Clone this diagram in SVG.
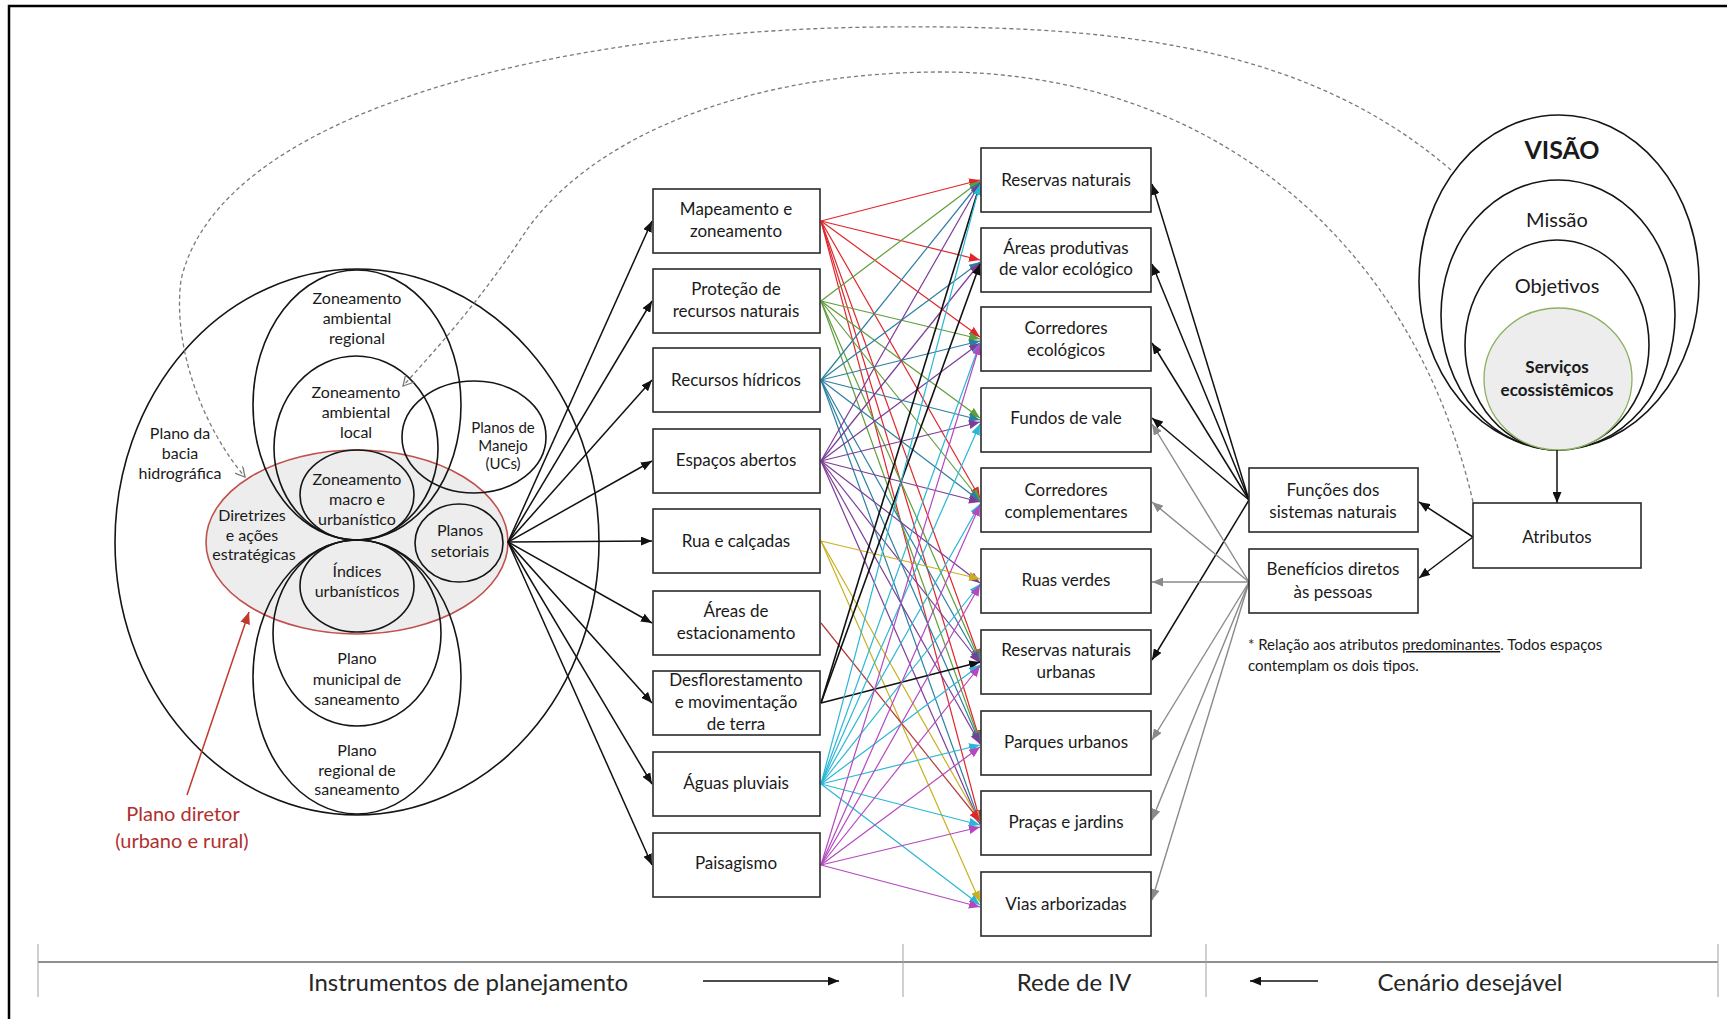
<svg xmlns="http://www.w3.org/2000/svg" width="1727" height="1019" viewBox="0 0 1727 1019">
  <style>
    text { font-family: "Lato", "Open Sans", sans-serif; fill: #1a1a1a; text-anchor: middle; }
    .t17 { font-size: 17px; }
    .t16 { font-size: 16px; }
    .t15 { font-size: 15px; }
    .box { fill: #ffffff; stroke: #2a2a2a; stroke-width: 1.6; }
    .ring { fill: none; stroke: #151515; stroke-width: 1.6; }
    .dash { fill: none; stroke: #7a7a7a; stroke-width: 1.3; stroke-dasharray: 4 3; marker-end: url(#a-open); }
    .k { stroke: #111111; stroke-width: 1.5; marker-end: url(#a-black); }
    .g { stroke: #8a8a8a; stroke-width: 1.4; marker-end: url(#a-grey); }
    .c-red { stroke: #e0262b; stroke-width: 1.2; marker-end: url(#a-red); }
    .c-green { stroke: #5e9e3a; stroke-width: 1.2; marker-end: url(#a-green); }
    .c-teal { stroke: #2b7fa3; stroke-width: 1.2; marker-end: url(#a-teal); }
    .c-purple { stroke: #7d3c98; stroke-width: 1.2; marker-end: url(#a-purple); }
    .c-yellow { stroke: #c8b020; stroke-width: 1.2; marker-end: url(#a-yellow); }
    .c-dred { stroke: #b5393a; stroke-width: 1.2; marker-end: url(#a-dred); }
    .c-black { stroke: #111111; stroke-width: 1.6; marker-end: url(#a-black); }
    .c-cyan { stroke: #2ab7d6; stroke-width: 1.2; marker-end: url(#a-cyan); }
    .c-mag { stroke: #b448c0; stroke-width: 1.2; marker-end: url(#a-mag); }
    .axis { font-size: 24px; fill: #262626; }
  </style>
  <defs>
    <marker id="a-black" markerUnits="userSpaceOnUse" markerWidth="11" markerHeight="9" refX="11" refY="4.5" orient="auto"><path d="M0,0 L11,4.5 L0,9 Z" fill="#111111"/></marker>
    <marker id="a-grey" markerUnits="userSpaceOnUse" markerWidth="11" markerHeight="9" refX="11" refY="4.5" orient="auto"><path d="M0,0 L11,4.5 L0,9 Z" fill="#8a8a8a"/></marker>
    <marker id="a-red" markerUnits="userSpaceOnUse" markerWidth="11" markerHeight="9" refX="11" refY="4.5" orient="auto"><path d="M0,0 L11,4.5 L0,9 Z" fill="#e0262b"/></marker>
    <marker id="a-green" markerUnits="userSpaceOnUse" markerWidth="11" markerHeight="9" refX="11" refY="4.5" orient="auto"><path d="M0,0 L11,4.5 L0,9 Z" fill="#5e9e3a"/></marker>
    <marker id="a-teal" markerUnits="userSpaceOnUse" markerWidth="11" markerHeight="9" refX="11" refY="4.5" orient="auto"><path d="M0,0 L11,4.5 L0,9 Z" fill="#2b7fa3"/></marker>
    <marker id="a-purple" markerUnits="userSpaceOnUse" markerWidth="11" markerHeight="9" refX="11" refY="4.5" orient="auto"><path d="M0,0 L11,4.5 L0,9 Z" fill="#7d3c98"/></marker>
    <marker id="a-yellow" markerUnits="userSpaceOnUse" markerWidth="11" markerHeight="9" refX="11" refY="4.5" orient="auto"><path d="M0,0 L11,4.5 L0,9 Z" fill="#c8b020"/></marker>
    <marker id="a-dred" markerUnits="userSpaceOnUse" markerWidth="11" markerHeight="9" refX="11" refY="4.5" orient="auto"><path d="M0,0 L11,4.5 L0,9 Z" fill="#e0262b"/></marker>
    <marker id="a-cyan" markerUnits="userSpaceOnUse" markerWidth="11" markerHeight="9" refX="11" refY="4.5" orient="auto"><path d="M0,0 L11,4.5 L0,9 Z" fill="#2ab7d6"/></marker>
    <marker id="a-mag" markerUnits="userSpaceOnUse" markerWidth="11" markerHeight="9" refX="11" refY="4.5" orient="auto"><path d="M0,0 L11,4.5 L0,9 Z" fill="#b448c0"/></marker>
    <marker id="a-plan" markerUnits="userSpaceOnUse" markerWidth="12" markerHeight="10" refX="12" refY="5" orient="auto"><path d="M0,0 L12,5 L0,10 Z" fill="#c0392b"/></marker>
    <marker id="a-open" markerUnits="userSpaceOnUse" markerWidth="11" markerHeight="11" refX="10" refY="5.5" orient="auto"><path d="M0,0 L10,5.5 L0,11" fill="none" stroke="#7a7a7a" stroke-width="1.3"/></marker>
  </defs>

  <!-- frame -->
  <path d="M9,1019 V6 H1727" fill="none" stroke="#000" stroke-width="2.5"/>

  <!-- planning instruments: nested plans -->
  <g id="plans">
    <ellipse cx="357" cy="542" rx="242" ry="273" class="ring"/>
    <ellipse cx="357" cy="542" rx="151" ry="92" fill="#ededed" stroke="#c0504d" stroke-width="1.6"/>
    <ellipse cx="357" cy="405" rx="104" ry="135" class="ring"/>
    <ellipse cx="356" cy="448" rx="82" ry="92" class="ring"/>
    <ellipse cx="357" cy="495" rx="57" ry="45" class="ring"/>
    <ellipse cx="474" cy="437" rx="72" ry="56" class="ring"/>
    <ellipse cx="459" cy="543" rx="44" ry="39" class="ring"/>
    <ellipse cx="357" cy="586" rx="57" ry="46" class="ring"/>
    <ellipse cx="357" cy="633" rx="84" ry="93" class="ring"/>
    <ellipse cx="357" cy="677" rx="104" ry="137" class="ring"/>
    <text class="t16" x="357" y="304">Zoneamento</text>
    <text class="t16" x="357" y="324">ambiental</text>
    <text class="t16" x="357" y="344">regional</text>
    <text class="t16" x="356" y="398">Zoneamento</text>
    <text class="t16" x="356" y="418">ambiental</text>
    <text class="t16" x="356" y="438">local</text>
    <text class="t16" x="180" y="439">Plano da</text>
    <text class="t16" x="180" y="459">bacia</text>
    <text class="t16" x="180" y="479">hidrográfica</text>
    <text class="t15" x="503" y="433">Planos de</text>
    <text class="t15" x="503" y="451">Manejo</text>
    <text class="t15" x="503" y="469">(UCs)</text>
    <text class="t16" x="357" y="485">Zoneamento</text>
    <text class="t16" x="357" y="505">macro e</text>
    <text class="t16" x="357" y="525">urbanístico</text>
    <text class="t16" x="252" y="521">Diretrizes</text>
    <text class="t16" x="252" y="541">e ações</text>
    <text class="t16" x="254" y="560">estratégicas</text>
    <text class="t16" x="460" y="536">Planos</text>
    <text class="t16" x="460" y="557">setoriais</text>
    <text class="t16" x="357" y="577">Índices</text>
    <text class="t16" x="357" y="597">urbanísticos</text>
    <text class="t16" x="357" y="664">Plano</text>
    <text class="t16" x="357" y="685">municipal de</text>
    <text class="t16" x="357" y="705">saneamento</text>
    <text class="t16" x="357" y="756">Plano</text>
    <text class="t16" x="357" y="776">regional de</text>
    <text class="t16" x="357" y="795">saneamento</text>
  </g>

  <g id="plano-diretor">
    <line x1="187" y1="795" x2="249" y2="612" stroke="#c0392b" stroke-width="1.5" marker-end="url(#a-plan)"/>
    <text x="183" y="821" style="font-size:20px; fill:#b0302f">Plano diretor</text>
    <text x="182" y="848" style="font-size:20px; fill:#b0302f">(urbano e rural)</text>
  </g>

  <!-- vision block -->
  <g id="visao">
    <ellipse cx="1559" cy="282" rx="140" ry="167" class="ring"/>
    <ellipse cx="1558" cy="315" rx="117" ry="135" class="ring"/>
    <ellipse cx="1557" cy="345" rx="92" ry="105" class="ring"/>
    <ellipse cx="1558" cy="379" rx="74" ry="71" fill="#ededed" stroke="#8cb060" stroke-width="1.3"/>
    <text x="1562" y="159" style="font-size:25px; font-weight:bold">VISÃO</text>
    <text x="1557" y="227" style="font-size:20px">Missão</text>
    <text x="1557" y="293" style="font-size:20px">Objetivos</text>
    <text x="1557" y="373" style="font-size:17px; font-weight:bold">Serviços</text>
    <text x="1557" y="396" style="font-size:17px; font-weight:bold">ecossistêmicos</text>
  </g>

  <!-- connectors -->
  <g id="connectors">
    <path class="dash" d="M1451,170 C1300,40 1100,25 881,27 C560,30 220,110 181,280 C172,350 205,430 245,477"/>
    <path class="dash" d="M1473,502 C1410,230 1200,70 936,72 C760,73 590,130 520,240 C480,300 440,345 403,386"/>

    <!-- fan from the plans to the instruments -->
    <line class="k" x1="508" y1="542" x2="652" y2="221"/>
    <line class="k" x1="508" y1="542" x2="652" y2="301"/>
    <line class="k" x1="508" y1="542" x2="652" y2="380"/>
    <line class="k" x1="508" y1="542" x2="652" y2="461"/>
    <line class="k" x1="508" y1="542" x2="652" y2="541"/>
    <line class="k" x1="508" y1="542" x2="652" y2="623"/>
    <line class="k" x1="508" y1="542" x2="652" y2="703"/>
    <line class="k" x1="508" y1="542" x2="652" y2="784"/>
    <line class="k" x1="508" y1="542" x2="652" y2="865"/>

    <!-- Mapeamento e zoneamento -->
    <line class="c-red" x1="821" y1="221" x2="980" y2="180"/>
    <line class="c-red" x1="821" y1="221" x2="980" y2="260"/>
    <line class="c-red" x1="821" y1="221" x2="980" y2="337"/>
    <line class="c-red" x1="821" y1="221" x2="980" y2="498"/>
    <line class="c-red" x1="821" y1="221" x2="980" y2="660"/>
    <line class="c-red" x1="821" y1="221" x2="980" y2="741"/>
    <line class="c-red" x1="821" y1="221" x2="980" y2="821"/>
    <!-- Proteção de recursos naturais -->
    <line class="c-green" x1="821" y1="301" x2="980" y2="181"/>
    <line class="c-green" x1="821" y1="301" x2="980" y2="339"/>
    <line class="c-green" x1="821" y1="301" x2="980" y2="418"/>
    <line class="c-green" x1="821" y1="301" x2="980" y2="500"/>
    <line class="c-green" x1="821" y1="301" x2="980" y2="661"/>
    <line class="c-green" x1="821" y1="301" x2="980" y2="742"/>
    <!-- Recursos hídricos -->
    <line class="c-teal" x1="821" y1="380" x2="980" y2="182"/>
    <line class="c-teal" x1="821" y1="380" x2="980" y2="262"/>
    <line class="c-teal" x1="821" y1="380" x2="980" y2="341"/>
    <line class="c-teal" x1="821" y1="380" x2="980" y2="420"/>
    <line class="c-teal" x1="821" y1="380" x2="980" y2="501"/>
    <line class="c-teal" x1="821" y1="380" x2="980" y2="662"/>
    <line class="c-teal" x1="821" y1="380" x2="980" y2="743"/>
    <line class="c-teal" x1="821" y1="380" x2="980" y2="823"/>
    <!-- Espaços abertos -->
    <line class="c-purple" x1="821" y1="461" x2="980" y2="183"/>
    <line class="c-purple" x1="821" y1="461" x2="980" y2="263"/>
    <line class="c-purple" x1="821" y1="461" x2="980" y2="343"/>
    <line class="c-purple" x1="821" y1="461" x2="980" y2="422"/>
    <line class="c-purple" x1="821" y1="461" x2="980" y2="502"/>
    <line class="c-purple" x1="821" y1="461" x2="980" y2="583"/>
    <line class="c-purple" x1="821" y1="461" x2="980" y2="663"/>
    <line class="c-purple" x1="821" y1="461" x2="980" y2="744"/>
    <line class="c-purple" x1="821" y1="461" x2="980" y2="824"/>
    <!-- Rua e calçadas -->
    <line class="c-yellow" x1="821" y1="541" x2="980" y2="579"/>
    <line class="c-yellow" x1="821" y1="541" x2="980" y2="822"/>
    <line class="c-yellow" x1="821" y1="541" x2="980" y2="902"/>
    <!-- Áreas de estacionamento -->
    <line class="c-dred" x1="821" y1="623" x2="980" y2="821"/>
    <!-- Desflorestamento e movimentação de terra -->
    <line class="c-black" x1="821" y1="703" x2="980" y2="184"/>
    <line class="c-black" x1="821" y1="703" x2="980" y2="264"/>
    <line class="c-black" x1="821" y1="703" x2="980" y2="662"/>
    <!-- Águas pluviais -->
    <line class="c-cyan" x1="821" y1="784" x2="980" y2="184"/>
    <line class="c-cyan" x1="821" y1="784" x2="980" y2="343"/>
    <line class="c-cyan" x1="821" y1="784" x2="980" y2="424"/>
    <line class="c-cyan" x1="821" y1="784" x2="980" y2="504"/>
    <line class="c-cyan" x1="821" y1="784" x2="980" y2="584"/>
    <line class="c-cyan" x1="821" y1="784" x2="980" y2="665"/>
    <line class="c-cyan" x1="821" y1="784" x2="980" y2="745"/>
    <line class="c-cyan" x1="821" y1="784" x2="980" y2="825"/>
    <line class="c-cyan" x1="821" y1="784" x2="980" y2="905"/>
    <!-- Paisagismo -->
    <line class="c-mag" x1="821" y1="865" x2="980" y2="344"/>
    <line class="c-mag" x1="821" y1="865" x2="980" y2="505"/>
    <line class="c-mag" x1="821" y1="865" x2="980" y2="585"/>
    <line class="c-mag" x1="821" y1="865" x2="980" y2="666"/>
    <line class="c-mag" x1="821" y1="865" x2="980" y2="747"/>
    <line class="c-mag" x1="821" y1="865" x2="980" y2="827"/>
    <line class="c-mag" x1="821" y1="865" x2="980" y2="907"/>

    <!-- functions of natural systems -->
    <line class="k" x1="1249" y1="500" x2="1152" y2="184"/>
    <line class="k" x1="1249" y1="500" x2="1152" y2="264"/>
    <line class="k" x1="1249" y1="500" x2="1152" y2="343"/>
    <line class="k" x1="1249" y1="500" x2="1152" y2="418"/>
    <line class="k" x1="1249" y1="500" x2="1152" y2="660"/>
    <!-- direct benefits to people -->
    <line class="g" x1="1249" y1="582" x2="1152" y2="424"/>
    <line class="g" x1="1249" y1="582" x2="1152" y2="502"/>
    <line class="g" x1="1249" y1="582" x2="1152" y2="582"/>
    <line class="g" x1="1249" y1="582" x2="1152" y2="740"/>
    <line class="g" x1="1249" y1="582" x2="1152" y2="820"/>
    <line class="g" x1="1249" y1="582" x2="1152" y2="900"/>
    <!-- attributes -->
    <line class="k" x1="1473" y1="537" x2="1419" y2="502"/>
    <line class="k" x1="1473" y1="537" x2="1419" y2="578"/>
    <line class="k" x1="1557" y1="450" x2="1557" y2="503"/>
  </g>

  <!-- instruments -->
  <g id="mapeamento"><rect class="box" x="653" y="189" width="167" height="64"/><text class="t17" x="736" y="215">Mapeamento e</text><text class="t17" x="736" y="237">zoneamento</text></g>
  <g id="protecao"><rect class="box" x="653" y="269" width="167" height="64"/><text class="t17" x="736" y="295">Proteção de</text><text class="t17" x="736" y="317">recursos naturais</text></g>
  <g id="recursos-hidricos"><rect class="box" x="653" y="348" width="167" height="64"/><text class="t17" x="736" y="386">Recursos hídricos</text></g>
  <g id="espacos-abertos"><rect class="box" x="653" y="429" width="167" height="64"/><text class="t17" x="736" y="466">Espaços abertos</text></g>
  <g id="rua-calcadas"><rect class="box" x="653" y="509" width="167" height="64"/><text class="t17" x="736" y="547">Rua e calçadas</text></g>
  <g id="estacionamento"><rect class="box" x="653" y="591" width="167" height="64"/><text class="t17" x="736" y="617">Áreas de</text><text class="t17" x="736" y="639">estacionamento</text></g>
  <g id="desflorestamento"><rect class="box" x="653" y="671" width="167" height="64"/><text class="t17" x="736" y="686">Desflorestamento</text><text class="t17" x="736" y="708">e movimentação</text><text class="t17" x="736" y="730">de terra</text></g>
  <g id="aguas-pluviais"><rect class="box" x="653" y="752" width="167" height="64"/><text class="t17" x="736" y="789">Águas pluviais</text></g>
  <g id="paisagismo"><rect class="box" x="653" y="833" width="167" height="64"/><text class="t17" x="736" y="869">Paisagismo</text></g>

  <!-- green infrastructure network -->
  <g id="reservas-naturais"><rect class="box" x="981" y="148" width="170" height="64"/><text class="t17" x="1066" y="186">Reservas naturais</text></g>
  <g id="areas-produtivas"><rect class="box" x="981" y="228" width="170" height="64"/><text class="t17" x="1066" y="254">Áreas produtivas</text><text class="t17" x="1066" y="275">de valor ecológico</text></g>
  <g id="corredores-ecologicos"><rect class="box" x="981" y="307" width="170" height="64"/><text class="t17" x="1066" y="334">Corredores</text><text class="t17" x="1066" y="356">ecológicos</text></g>
  <g id="fundos-de-vale"><rect class="box" x="981" y="388" width="170" height="64"/><text class="t17" x="1066" y="424">Fundos de vale</text></g>
  <g id="corredores-complementares"><rect class="box" x="981" y="468" width="170" height="64"/><text class="t17" x="1066" y="496">Corredores</text><text class="t17" x="1066" y="518">complementares</text></g>
  <g id="ruas-verdes"><rect class="box" x="981" y="549" width="170" height="64"/><text class="t17" x="1066" y="586">Ruas verdes</text></g>
  <g id="reservas-urbanas"><rect class="box" x="981" y="630" width="170" height="64"/><text class="t17" x="1066" y="656">Reservas naturais</text><text class="t17" x="1066" y="678">urbanas</text></g>
  <g id="parques-urbanos"><rect class="box" x="981" y="711" width="170" height="64"/><text class="t17" x="1066" y="748">Parques urbanos</text></g>
  <g id="pracas-jardins"><rect class="box" x="981" y="791" width="170" height="64"/><text class="t17" x="1066" y="828">Praças e jardins</text></g>
  <g id="vias-arborizadas"><rect class="box" x="981" y="872" width="170" height="64"/><text class="t17" x="1066" y="910">Vias arborizadas</text></g>

  <!-- desired scenario -->
  <g id="funcoes"><rect class="box" x="1249" y="468" width="169" height="64"/><text class="t17" x="1333" y="496">Funções dos</text><text class="t17" x="1333" y="518">sistemas naturais</text></g>
  <g id="beneficios"><rect class="box" x="1249" y="549" width="169" height="64"/><text class="t17" x="1333" y="575">Benefícios diretos</text><text class="t17" x="1333" y="598">às pessoas</text></g>
  <g id="atributos"><rect class="box" x="1473" y="503" width="168" height="65"/><text class="t17" x="1557" y="543">Atributos</text></g>

  <g id="nota">
    <text x="1248" y="650" style="font-size:15px; text-anchor:start">* Relação aos atributos <tspan text-decoration="underline">predominantes</tspan>. Todos espaços</text>
    <text x="1248" y="671" style="font-size:15px; text-anchor:start">contemplam os dois tipos.</text>
  </g>

  <!-- bottom axis -->
  <g id="eixo">
    <line x1="38" y1="962" x2="1718" y2="962" stroke="#8f8f8f" stroke-width="2"/>
    <line x1="38" y1="944" x2="38" y2="997" stroke="#a0a0a0" stroke-width="1"/>
    <line x1="903" y1="944" x2="903" y2="997" stroke="#a0a0a0" stroke-width="1"/>
    <line x1="1206" y1="944" x2="1206" y2="997" stroke="#a0a0a0" stroke-width="1"/>
    <line x1="1718" y1="944" x2="1718" y2="997" stroke="#a0a0a0" stroke-width="1"/>
    <line class="k" x1="703" y1="981" x2="839" y2="981"/>
    <line class="k" x1="1318" y1="981" x2="1250" y2="981"/>
    <text class="axis" x="468" y="991">Instrumentos de planejamento</text>
    <text class="axis" x="1074" y="991">Rede de IV</text>
    <text class="axis" x="1470" y="991">Cenário desejável</text>
  </g>
</svg>
